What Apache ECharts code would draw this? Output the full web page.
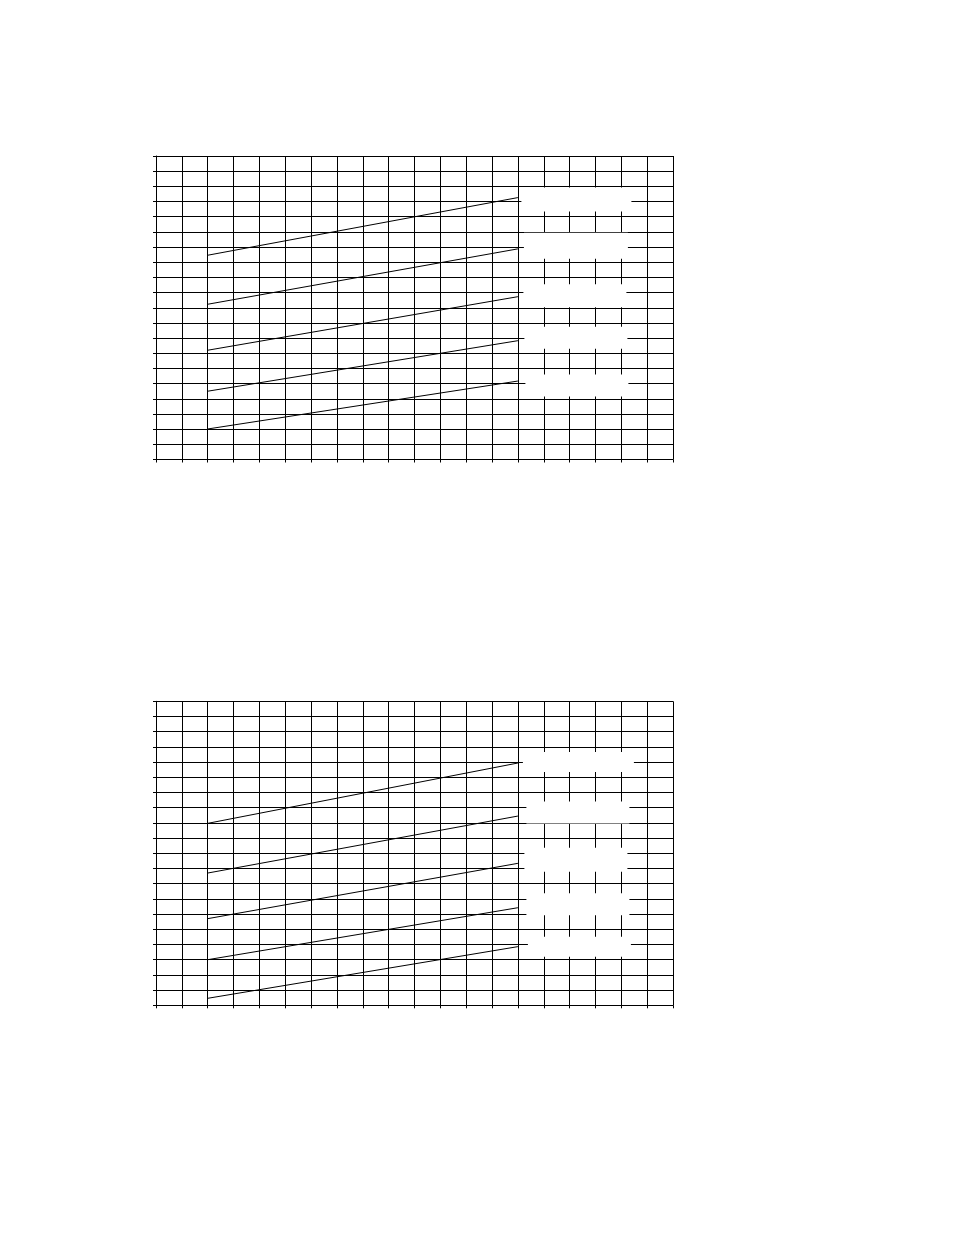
<!DOCTYPE html>
<html>
<head>
<meta charset="utf-8">
<script src="https://cdn.jsdelivr.net/npm/echarts@6/dist/echarts.min.js"></script>
<style>
    html, body { margin: 0; padding: 0; background: #fff; }
    #chart { width: 954px; height: 1235px; }
</style>
</head>
<body>
<div id="chart"></div>
<script>
"use strict";
// x positions where every line starts / ends
const xStartEnd = [2, 14];
// upper chart, five lines (value at start, value at end)
const topLine1 = [13.46, 17.26];
const topLine2 = [10.23, 13.88];
const topLine3 = [7.2, 10.73];
const topLine4 = [4.5, 7.83];
const topLine5 = [2.01, 5.17];
// lower chart
const bottomLine1 = [11.97, 15.94];
const bottomLine2 = [8.7, 12.45];
const bottomLine3 = [5.7, 9.34];
const bottomLine4 = [3.0, 6.42];
const bottomLine5 = [0.46, 3.86];
const axisMin = 0;
const axisMax = 20;
const axisStep = 1;

const topLines = [topLine1, topLine2, topLine3, topLine4, topLine5];
const bottomLines = [bottomLine1, bottomLine2, bottomLine3, bottomLine4, bottomLine5];

// the blank white tags next to the line ends: [distance, width, height, dy]
const topTags = [[3.5, 110, 24, 2], [6, 104, 26, -3], [5.5, 103, 23, -1], [6.5, 103, 22, -3], [7.5, 103, 22, 4.5]];
const bottomTags = [[5, 111, 20, -1], [8.5, 103, 22, -3.5], [6.5, 103, 24, -3.5], [8.5, 103, 22, -3.5], [10, 103, 20, 0]];

const black = "#000";
const chart = echarts.init(document.getElementById("chart"), null, { renderer: "canvas" });

const makeAxis = (gridIndex) => ({
    type: "value",
    gridIndex,
    min: axisMin,
    max: axisMax,
    interval: axisStep,
    axisLine: { show: true, onZero: false, lineStyle: { color: black, width: 1 } },
    axisTick: { show: true, length: 3, lineStyle: { color: black, width: 1 } },
    axisLabel: { show: false },
    splitLine: { show: true, lineStyle: { color: black, width: 1 } },
});

const tag = ([distance, width, height, dy]) => ({
    show: true,
    formatter: " ",
    distance,
    offset: [0, dy],
    width,
    height,
    padding: 0,
    backgroundColor: "#fff",
    color: "#fff",
});

const makeSeries = (lines, tags, idx) => lines.map((vals, i) => ({
    type: "line",
    xAxisIndex: idx,
    yAxisIndex: idx,
    data: vals.map((v, k) => [xStartEnd[k], v]),
    showSymbol: false,
    symbol: "none",
    silent: true,
    animation: false,
    lineStyle: { color: black, width: 1 },
    endLabel: tag(tags[i]),
}));

chart.setOption({
    animation: false,
    grid: [
        { left: 156, top: 156, width: 517, height: 303.5 },
        { left: 156, top: 701.3, width: 517, height: 304 },
    ],
    xAxis: [makeAxis(0), makeAxis(1)],
    yAxis: [makeAxis(0), makeAxis(1)],
    series: [...makeSeries(topLines, topTags, 0), ...makeSeries(bottomLines, bottomTags, 1)],
});
</script>
</body>
</html>
